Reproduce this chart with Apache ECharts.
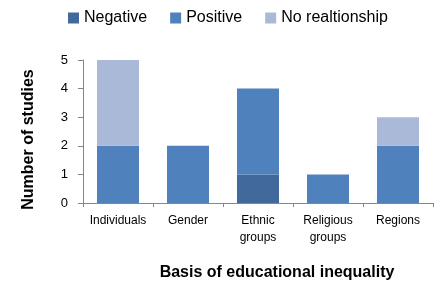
<!DOCTYPE html>
<html>
<head>
<meta charset="utf-8">
<script src="https://cdn.jsdelivr.net/npm/echarts@6/dist/echarts.min.js"></script>
<style>
  html, body { margin: 0; padding: 0; background: #fff; }
  #main { width: 442px; height: 286px; }
</style>
</head>
<body>
<div id="main"></div>
<script>
// data
var categories = ['Individuals', 'Gender', 'Ethnic\ngroups', 'Religious\ngroups', 'Regions'];
var negative = [0, 0, 1, 0, 0];
var positive = [2, 2, 3, 1, 2];
var noRelationship = [3, 0, 0, 0, 1];
var yTicks = [0, 1, 2, 3, 4, 5];

var font = 'Liberation Sans';
var chart = echarts.init(document.getElementById('main'));

function bar(name, data, color) {
  return {
    name: name,
    type: 'bar',
    stack: 'total',
    barWidth: '60%',
    // zero segments are not drawn in the original
    data: data.map(function (v) { return v === 0 ? '-' : v; }),
    itemStyle: { color: color },
    emphasis: { disabled: true }
  };
}

chart.setOption({
  animation: false,
  textStyle: { fontFamily: font },
  legend: {
    top: 10,
    left: 68,
    padding: 0,
    itemWidth: 11,
    itemHeight: 11,
    itemGap: 23,
    icon: 'rect',
    textStyle: { fontSize: 16, color: '#000', fontFamily: font },
    data: ['Negative', 'Positive', 'No realtionship']
  },
  grid: { left: 83, right: 9, top: 60, bottom: 82 },
  xAxis: {
    type: 'category',
    data: categories,
    name: 'Basis of educational inequality',
    nameLocation: 'middle',
    nameGap: 62,
    nameTextStyle: { fontSize: 16, fontWeight: 'bold', color: '#000', fontFamily: font, padding: [0, 0, 0, 38] },
    axisLine: { lineStyle: { color: '#868686', width: 1 } },
    axisTick: { show: true, length: 4, lineStyle: { color: '#868686' } },
    axisLabel: { fontSize: 12, color: '#000', lineHeight: 17, margin: 9, interval: 0 }
  },
  yAxis: {
    type: 'value',
    min: yTicks[0],
    max: yTicks[yTicks.length - 1],
    interval: 1,
    name: 'Number of studies',
    nameLocation: 'middle',
    nameGap: 46,
    nameTextStyle: { fontSize: 16, fontWeight: 'bold', color: '#000', fontFamily: font, padding: [0, 16, 0, 0] },
    axisLine: { show: true, lineStyle: { color: '#868686', width: 1 } },
    axisTick: { show: true, length: 5, lineStyle: { color: '#868686' } },
    splitLine: { show: false },
    axisLabel: { fontSize: 13, color: '#000', margin: 15 }
  },
  series: [
    bar('Negative', negative, '#41699c'),
    bar('Positive', positive, '#4f81bd'),
    bar('No realtionship', noRelationship, '#aab9d8')
  ]
});
</script>
</body>
</html>
